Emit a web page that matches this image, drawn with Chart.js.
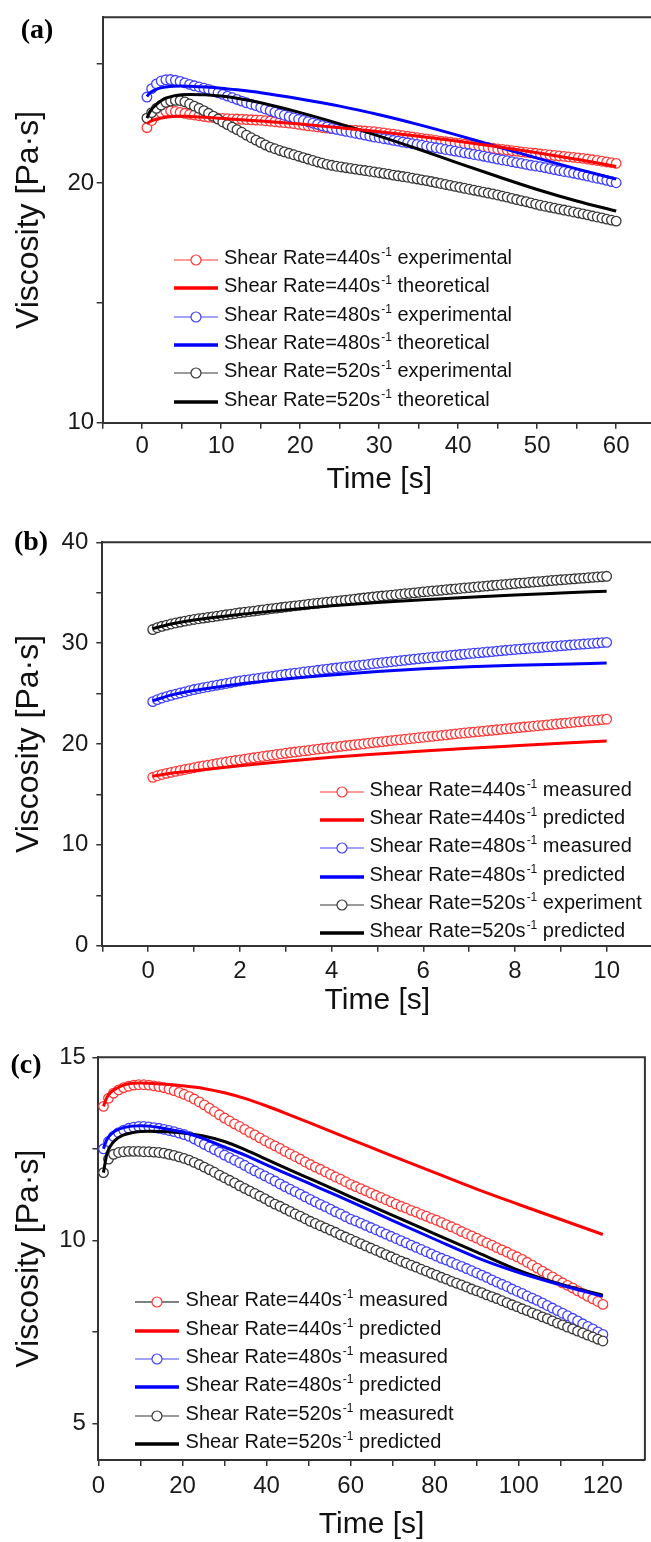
<!DOCTYPE html>
<html>
<head>
<meta charset="utf-8">
<script src="https://cdn.jsdelivr.net/npm/chart.js@4.4.1/dist/chart.umd.min.js"></script>
<style>
  html, body { margin: 0; padding: 0; background: #fff; }
  #page { position: relative; width: 651px; height: 1542px; overflow: hidden; }
  #page canvas { position: absolute; left: 0; }
  .tag { position: absolute; font: bold 28px "Liberation Serif", "Times New Roman", serif; line-height: 1; transform: translate(-50%, -50%); color: #000; }
  .leg { position: absolute; height: 28px; width: 420px; }
  .leg svg { position: absolute; left: 0; top: 0; }
  .leg .txt { position: absolute; top: 0; line-height: 28px; font: 20px "Liberation Sans", Arial, sans-serif; color: #111; white-space: nowrap; }
  .leg .sup { font-size: 12px; position: relative; top: -8px; margin-left: 1px; }
</style>
</head>
<body>
<div id="page">
  <canvas id="chartA" width="680" height="500" style="top:0px"></canvas>
  <canvas id="chartB" width="680" height="520" style="top:500px"></canvas>
  <canvas id="chartC" width="651" height="523" style="top:1020px"></canvas>
  <div class="tag" style="left:37px; top:29px">(a)</div>
  <div class="tag" style="left:31px; top:541px">(b)</div>
  <div class="tag" style="left:26px; top:1064px">(c)</div>
</div>
<script>
// ---- legend text ----
var rates = ['440', '480', '520']
var kindsA = ['experimental', 'theoretical', 'experimental', 'theoretical', 'experimental', 'theoretical']
var kindsB = ['measured', 'predicted', 'measured', 'predicted', 'experiment', 'predicted']
var kindsC = ['measured', 'predicted', 'measured', 'predicted', 'measuredt', 'predicted']

// ---- panel (a): time [s] and viscosity [Pa.s] ----
var timeA = [0.6,1.2,1.8,2.4,3,3.6,4.2,4.8,5.4,6,
  6.6,7.2,7.8,8.4,9,9.6,10.2,10.8,11.4,12,
  12.6,13.2,13.8,14.4,15,15.6,16.2,16.8,17.4,18,
  18.6,19.2,19.8,20.4,21,21.6,22.2,22.8,23.4,24,
  24.6,25.2,25.8,26.4,27,27.6,28.2,28.8,29.4,30,
  30.6,31.2,31.8,32.4,33,33.6,34.2,34.8,35.4,36,
  36.6,37.2,37.8,38.4,39,39.6,40.2,40.8,41.4,42,
  42.6,43.2,43.8,44.4,45,45.6,46.2,46.8,47.4,48,
  48.6,49.2,49.8,50.4,51,51.6,52.2,52.8,53.4,54,
  54.6,55.2,55.8,56.4,57,57.6,58.2,58.8,59.4,60]
var red440A = [22.32,22.62,22.82,22.94,23.00,23.02,23.00,22.96,22.92,22.88,
  22.85,22.82,22.79,22.76,22.74,22.72,22.71,22.70,22.69,22.68,
  22.67,22.66,22.65,22.64,22.63,22.61,22.59,22.57,22.55,22.53,
  22.51,22.49,22.46,22.43,22.40,22.38,22.35,22.33,22.30,22.28,
  22.27,22.25,22.24,22.22,22.21,22.19,22.18,22.16,22.15,22.12,
  22.10,22.07,22.05,22.02,21.99,21.96,21.93,21.90,21.87,21.85,
  21.82,21.79,21.76,21.73,21.71,21.68,21.66,21.63,21.60,21.57,
  21.55,21.52,21.49,21.46,21.43,21.41,21.39,21.36,21.34,21.31,
  21.29,21.27,21.25,21.22,21.20,21.18,21.16,21.14,21.12,21.10,
  21.08,21.06,21.04,21.01,20.98,20.95,20.92,20.89,20.86,20.83]
var blue480A = [23.60,23.95,24.15,24.27,24.32,24.33,24.30,24.25,24.19,24.13,
  24.07,24.02,23.97,23.92,23.85,23.78,23.71,23.64,23.57,23.50,
  23.43,23.36,23.30,23.24,23.17,23.10,23.03,22.97,22.90,22.84,
  22.78,22.73,22.67,22.62,22.57,22.51,22.46,22.40,22.35,22.29,
  22.25,22.21,22.17,22.13,22.09,22.05,22.01,21.97,21.93,21.90,
  21.86,21.83,21.79,21.76,21.72,21.69,21.65,21.62,21.59,21.55,
  21.52,21.48,21.45,21.41,21.38,21.34,21.31,21.27,21.24,21.20,
  21.17,21.13,21.09,21.05,21.01,20.97,20.94,20.90,20.86,20.83,
  20.79,20.75,20.72,20.69,20.65,20.61,20.57,20.53,20.49,20.46,
  20.42,20.38,20.34,20.30,20.25,20.21,20.17,20.12,20.07,20.02]
var black520A = [22.72,22.95,23.13,23.26,23.38,23.43,23.46,23.45,23.40,23.31,
  23.22,23.13,23.03,22.92,22.80,22.68,22.56,22.45,22.34,22.24,
  22.13,22.01,21.90,21.80,21.70,21.60,21.51,21.44,21.37,21.31,
  21.25,21.19,21.13,21.07,21.01,20.95,20.89,20.84,20.79,20.75,
  20.71,20.68,20.65,20.62,20.59,20.56,20.53,20.50,20.47,20.44,
  20.41,20.38,20.34,20.31,20.28,20.25,20.21,20.18,20.14,20.11,
  20.07,20.03,19.99,19.95,19.91,19.87,19.83,19.79,19.75,19.71,
  19.67,19.63,19.59,19.55,19.51,19.46,19.42,19.37,19.32,19.27,
  19.23,19.18,19.13,19.08,19.04,19.00,18.96,18.92,18.88,18.84,
  18.80,18.76,18.72,18.68,18.63,18.59,18.55,18.50,18.46,18.42]
var fitTimeA = [0.6, 1, 2, 3, 4, 5, 6, 8, 10, 12, 15, 20, 25, 30, 35, 40, 45, 50, 55, 60]
var red440FitA = [22.48,22.58,22.70,22.76,22.79,22.80,22.79,22.76,22.71,22.66,22.60,22.47,22.32,22.15,21.96,21.75,21.52,21.27,21.00,20.70]
var blue480FitA = [23.62,23.78,23.95,24.02,24.05,24.06,24.05,24.02,23.97,23.90,23.78,23.52,23.22,22.86,22.45,22.00,21.52,21.05,20.60,20.17]
var black520FitA = [22.72,23.00,23.35,23.55,23.65,23.70,23.71,23.70,23.64,23.55,23.36,22.95,22.48,21.97,21.42,20.84,20.28,19.74,19.26,18.84]
var xTicksA = [-5,0,5,10,15,20,25,30,35,40,45,50,55,60,65]
var xLabelsA = [0,10,20,30,40,50,60]
var yTicksA = [10,15,20,25]
var yLabelsA = [10,20]

// ---- panel (b) ----
var timeB = [0.1,0.2,0.3,0.4,0.5,0.6,0.7,0.8,0.9,1,
  1.1,1.2,1.3,1.4,1.5,1.6,1.7,1.8,1.9,2,
  2.1,2.2,2.3,2.4,2.5,2.6,2.7,2.8,2.9,3,
  3.1,3.2,3.3,3.4,3.5,3.6,3.7,3.8,3.9,4,
  4.1,4.2,4.3,4.4,4.5,4.6,4.7,4.8,4.9,5,
  5.1,5.2,5.3,5.4,5.5,5.6,5.7,5.8,5.9,6,
  6.1,6.2,6.3,6.4,6.5,6.6,6.7,6.8,6.9,7,
  7.1,7.2,7.3,7.4,7.5,7.6,7.7,7.8,7.9,8,
  8.1,8.2,8.3,8.4,8.5,8.6,8.7,8.8,8.9,9,
  9.1,9.2,9.3,9.4,9.5,9.6,9.7,9.8,9.9,10]
var red440B = [16.70,16.85,16.98,17.09,17.19,17.29,17.38,17.47,17.56,17.65,
  17.74,17.82,17.90,17.98,18.06,18.14,18.21,18.29,18.36,18.43,
  18.50,18.57,18.63,18.70,18.76,18.83,18.89,18.96,19.02,19.09,
  19.15,19.20,19.26,19.32,19.37,19.43,19.49,19.55,19.60,19.66,
  19.71,19.76,19.82,19.87,19.92,19.97,20.02,20.08,20.13,20.18,
  20.23,20.28,20.33,20.38,20.42,20.47,20.52,20.57,20.62,20.67,
  20.72,20.76,20.81,20.86,20.90,20.95,21.00,21.05,21.09,21.14,
  21.18,21.23,21.27,21.32,21.36,21.41,21.45,21.50,21.54,21.59,
  21.63,21.68,21.72,21.76,21.81,21.85,21.90,21.94,21.98,22.03,
  22.07,22.11,22.16,22.20,22.24,22.29,22.33,22.37,22.42,22.46]
var blue480B = [24.20,24.40,24.56,24.70,24.83,24.95,25.06,25.17,25.29,25.40,
  25.49,25.58,25.66,25.75,25.83,25.92,26.00,26.08,26.17,26.25,
  26.32,26.38,26.45,26.51,26.58,26.65,26.71,26.78,26.84,26.91,
  26.97,27.02,27.08,27.14,27.19,27.25,27.31,27.37,27.42,27.48,
  27.53,27.59,27.64,27.69,27.75,27.80,27.85,27.90,27.96,28.01,
  28.06,28.11,28.16,28.21,28.26,28.31,28.36,28.41,28.46,28.51,
  28.55,28.60,28.64,28.69,28.73,28.78,28.82,28.87,28.91,28.96,
  29.00,29.04,29.08,29.12,29.16,29.21,29.25,29.29,29.33,29.37,
  29.41,29.44,29.48,29.52,29.55,29.59,29.63,29.67,29.70,29.74,
  29.77,29.81,29.84,29.88,29.91,29.94,29.98,30.01,30.05,30.08]
var black520B = [31.35,31.53,31.67,31.79,31.90,32.00,32.09,32.18,32.27,32.35,
  32.42,32.48,32.55,32.61,32.68,32.75,32.81,32.88,32.94,33.01,
  33.07,33.13,33.18,33.24,33.30,33.36,33.42,33.47,33.53,33.59,
  33.64,33.70,33.75,33.80,33.86,33.91,33.96,34.01,34.07,34.12,
  34.17,34.22,34.27,34.32,34.37,34.42,34.47,34.52,34.57,34.62,
  34.67,34.71,34.76,34.80,34.85,34.90,34.94,34.99,35.03,35.08,
  35.12,35.17,35.21,35.25,35.30,35.34,35.38,35.42,35.47,35.51,
  35.55,35.59,35.63,35.67,35.71,35.75,35.79,35.83,35.87,35.91,
  35.95,35.98,36.02,36.06,36.09,36.13,36.17,36.21,36.24,36.28,
  36.31,36.35,36.38,36.42,36.45,36.49,36.52,36.56,36.59,36.63]
var fitTimeB = [0.1, 0.5, 1, 2, 3, 4, 5, 6, 7, 8, 9, 10]
var red440FitB = [16.80,17.10,17.35,17.85,18.30,18.68,19.00,19.30,19.58,19.83,20.07,20.30]
var blue480FitB = [24.30,24.85,25.30,25.95,26.45,26.85,27.18,27.45,27.65,27.80,27.92,28.02]
var black520FitB = [31.45,31.90,32.30,32.85,33.30,33.70,34.02,34.30,34.55,34.78,34.97,35.15]
var xTicksB = [-1,0,1,2,3,4,5,6,7,8,9,10,11]
var xLabelsB = [0,2,4,6,8,10]
var yTicksB = [0,5,10,15,20,25,30,35,40]
var yLabelsB = [0,10,20,30,40]

// ---- panel (c) ----
var timeC = [1.2,2.4,3.6,4.8,6,7.2,8.4,9.6,10.8,12,
  13.2,14.4,15.6,16.8,18,19.2,20.4,21.6,22.8,24,
  25.2,26.4,27.6,28.8,30,31.2,32.4,33.6,34.8,36,
  37.2,38.4,39.6,40.8,42,43.2,44.4,45.6,46.8,48,
  49.2,50.4,51.6,52.8,54,55.2,56.4,57.6,58.8,60,
  61.2,62.4,63.6,64.8,66,67.2,68.4,69.6,70.8,72,
  73.2,74.4,75.6,76.8,78,79.2,80.4,81.6,82.8,84,
  85.2,86.4,87.6,88.8,90,91.2,92.4,93.6,94.8,96,
  97.2,98.4,99.6,100.8,102,103.2,104.4,105.6,106.8,108,
  109.2,110.4,111.6,112.8,114,115.2,116.4,117.6,118.8,120]
var red440C = [13.66,13.88,14.02,14.11,14.17,14.21,14.24,14.25,14.25,14.24,
  14.22,14.20,14.17,14.13,14.09,14.04,13.99,13.93,13.86,13.78,
  13.70,13.61,13.52,13.43,13.34,13.26,13.18,13.11,13.03,12.95,
  12.88,12.80,12.72,12.65,12.58,12.51,12.43,12.36,12.29,12.22,
  12.14,12.07,12.00,11.94,11.87,11.80,11.73,11.67,11.60,11.53,
  11.47,11.41,11.35,11.29,11.23,11.17,11.11,11.05,10.99,10.93,
  10.88,10.82,10.77,10.71,10.66,10.60,10.55,10.49,10.43,10.37,
  10.31,10.24,10.18,10.12,10.06,9.99,9.93,9.87,9.80,9.74,
  9.68,9.61,9.55,9.48,9.40,9.32,9.24,9.16,9.08,9.00,
  8.92,8.84,8.77,8.70,8.62,8.55,8.47,8.40,8.33,8.25]
var blue480C = [12.50,12.70,12.84,12.94,13.01,13.06,13.09,13.11,13.11,13.10,
  13.08,13.06,13.03,13.00,12.97,12.93,12.89,12.84,12.77,12.70,
  12.62,12.55,12.48,12.41,12.33,12.26,12.19,12.12,12.05,11.97,
  11.90,11.83,11.76,11.69,11.62,11.54,11.47,11.40,11.33,11.26,
  11.19,11.12,11.05,10.98,10.92,10.85,10.78,10.72,10.65,10.58,
  10.53,10.47,10.41,10.35,10.29,10.23,10.17,10.11,10.05,9.99,
  9.93,9.87,9.81,9.75,9.69,9.63,9.57,9.51,9.46,9.40,
  9.34,9.29,9.23,9.17,9.11,9.05,8.99,8.92,8.86,8.80,
  8.74,8.67,8.61,8.55,8.48,8.42,8.36,8.29,8.22,8.15,
  8.08,8.01,7.94,7.87,7.80,7.72,7.65,7.58,7.50,7.43]
var black520C = [11.85,12.22,12.35,12.40,12.42,12.43,12.43,12.43,12.42,12.42,
  12.41,12.40,12.38,12.35,12.32,12.28,12.24,12.19,12.13,12.07,
  12.00,11.93,11.86,11.78,11.71,11.64,11.57,11.49,11.42,11.35,
  11.28,11.21,11.14,11.06,10.99,10.93,10.86,10.79,10.72,10.66,
  10.59,10.52,10.46,10.40,10.34,10.28,10.22,10.15,10.09,10.03,
  9.97,9.91,9.85,9.79,9.73,9.67,9.61,9.55,9.49,9.43,
  9.38,9.32,9.27,9.21,9.16,9.10,9.05,8.99,8.94,8.88,
  8.83,8.78,8.73,8.67,8.62,8.57,8.51,8.46,8.41,8.35,
  8.30,8.24,8.19,8.13,8.08,8.02,7.97,7.91,7.86,7.80,
  7.74,7.69,7.63,7.58,7.52,7.47,7.41,7.36,7.30,7.25]
var fitTimeC = [1.2, 2, 3, 4, 6, 8, 10, 12, 15, 20, 25, 30, 35, 40, 45, 50, 55, 60, 70, 80, 90, 100, 110, 120]
var red440FitC = [13.66,13.90,14.05,14.13,14.24,14.29,14.30,14.29,14.27,14.22,14.15,14.03,13.87,13.67,13.45,13.22,12.99,12.76,12.30,11.85,11.40,10.98,10.57,10.16]
var blue480FitC = [12.50,12.75,12.90,12.99,13.08,13.12,13.13,13.12,13.07,12.96,12.78,12.55,12.32,12.06,11.81,11.56,11.31,11.06,10.54,10.03,9.53,9.12,8.78,8.47]
var black520FitC = [11.85,12.35,12.60,12.74,12.88,12.94,12.97,12.98,12.97,12.93,12.85,12.70,12.47,12.21,11.95,11.70,11.45,11.19,10.68,10.18,9.68,9.18,8.80,8.50]
var xTicksC = [0,10,20,30,40,50,60,70,80,90,100,110,120]
var xLabelsC = [0,20,40,60,80,100,120]
var yTicksC = [5,7.5,10,12.5,15]
var yLabelsC = [5,10,15]

// ---- styling ----
var expColor = ['#ff3a3a', '#4040ff', '#383838']
var fitColor = ['#ff0000', '#0000ff', '#000000']
var legLineColor = ['#ff7a7a', '#8585ff', '#7a7a7a']
var axisColor = '#333'

Chart.defaults.font.family = '"Liberation Sans", Arial, sans-serif'
Chart.defaults.color = '#1a1a1a'

var framePlugin = {
    id: 'frame',
    afterDraw: function (chart) {
        var ctx = chart.ctx, a = chart.chartArea
        ctx.save()
        ctx.strokeStyle = axisColor
        ctx.lineWidth = 2
        ctx.beginPath()
        ctx.moveTo(a.left, a.top)
        ctx.lineTo(a.right, a.top)
        ctx.lineTo(a.right, a.bottom)
        ctx.stroke()
        ctx.restore()
    }
}

function pairs(xs, ys) {
    return xs.map(function (x, i) { return { x: x, y: ys[i] } })
}

function makeSets(time, exps, fitTime, fits, kinds) {
    var sets = []
    for (var k = 0; k < 3; k++) {
        sets.push({
            label: 'Shear Rate=' + rates[k] + 's-1 ' + kinds[2 * k],
            data: pairs(time, exps[k]),
            showLine: false,
            pointRadius: 4.8,
            pointBorderWidth: 1.3,
            pointBackgroundColor: '#fff',
            pointBorderColor: expColor[k],
            borderColor: expColor[k],
            legendLine: legLineColor[k],
            order: 3 - k
        })
        sets.push({
            label: 'Shear Rate=' + rates[k] + 's-1 ' + kinds[2 * k + 1],
            data: pairs(fitTime, fits[k]),
            showLine: true,
            borderColor: fitColor[k],
            borderWidth: 3,
            pointRadius: 0,
            fill: false,
            cubicInterpolationMode: 'monotone',
            order: 0
        })
    }
    return sets
}

function axis(o) {
    return {
        type: 'linear',
        min: o.min,
        max: o.max,
        afterBuildTicks: function (s) { s.ticks = o.ticks.map(function (v) { return { value: v } }) },
        afterFit: function (s) {
            if (o.width) s.width = o.width
            if (o.height) s.height = o.height
        },
        ticks: {
            autoSkip: false,
            maxRotation: 0,
            padding: o.pad,
            font: { size: 24 },
            color: '#1a1a1a',
            callback: function (v) { return o.labels.indexOf(v) >= 0 ? String(v) : '' }
        },
        grid: { drawOnChartArea: false, drawTicks: true, tickLength: 6, color: axisColor, lineWidth: 1.5 },
        border: { display: true, color: axisColor, width: 2 },
        title: { display: true, text: o.title, font: { size: o.titleSize }, color: '#111', padding: o.titlePad }
    }
}

function makeChart(id, sets, x, y, padding) {
    return new Chart(document.getElementById(id), {
        type: 'line',
        data: { datasets: sets },
        options: {
            responsive: false,
            devicePixelRatio: 1,
            animation: false,
            events: [],
            layout: { padding: padding },
            plugins: { legend: { display: false }, tooltip: { enabled: false } },
            scales: { x: x, y: y }
        },
        plugins: [framePlugin]
    })
}

function addLegend(chart, box) {
    var page = document.getElementById('page')
    chart.data.datasets.forEach(function (ds, i) {
        var row = document.createElement('div')
        row.className = 'leg'
        row.style.left = box.x + 'px'
        row.style.top = (box.y + i * box.step - 14) + 'px'
        var svg = '<svg width="46" height="28" viewBox="0 0 46 28">'
        if (ds.showLine === false) {
            svg += '<line x1="0" y1="14" x2="44" y2="14" stroke="' + (box.lineOverride && i === 0 ? box.lineOverride : ds.legendLine) + '" stroke-width="1.5"/>'
            svg += '<circle cx="22" cy="14" r="5" fill="#fff" stroke="' + ds.pointBorderColor + '" stroke-width="1.2"/>'
        } else {
            svg += '<line x1="0" y1="14" x2="44" y2="14" stroke="' + ds.borderColor + '" stroke-width="3.5"/>'
        }
        svg += '</svg>'
        var parts = ds.label.split('s-1')
        row.innerHTML = svg + '<span class="txt" style="left:' + (box.tx - box.x) + 'px">' +
            parts[0] + 's<span class="sup">-1</span>' + parts[1] + '</span>'
        page.appendChild(row)
    })
}

// (a)
var chartA = makeChart('chartA',
    makeSets(timeA, [red440A, blue480A, black520A], fitTimeA, [red440FitA, blue480FitA, black520FitA], kindsA),
    axis({ min: -5, max: 65, ticks: xTicksA, labels: xLabelsA, pad: 3, height: 77.3, title: 'Time [s]', titleSize: 30, titlePad: { top: 0, bottom: 2 } }),
    axis({ min: 10, max: 26.93, ticks: yTicksA, labels: yLabelsA, pad: 2.5, width: 102.7, title: 'Viscosity [Pa\u00b7s]', titleSize: 32, titlePad: { top: 10, bottom: 0 } }),
    { left: 0, top: 17.3, right: 24.3, bottom: 0 })
addLegend(chartA, { x: 174, tx: 224, y: 260, step: 28.3 })

// (b)
var chartB = makeChart('chartB',
    makeSets(timeB, [red440B, blue480B, black520B], fitTimeB, [red440FitB, blue480FitB, black520FitB], kindsB),
    axis({ min: -1, max: 11, ticks: xTicksB, labels: xLabelsB, pad: 5.5, height: 74.3, title: 'Time [s]', titleSize: 30, titlePad: { top: 0, bottom: 1 } }),
    axis({ min: 0, max: 40, ticks: yTicksB, labels: yLabelsB, pad: 8, width: 102.3, title: 'Viscosity [Pa\u00b7s]', titleSize: 32, titlePad: { top: 10, bottom: 0 } }),
    { left: 0, top: 42.3, right: 27.5, bottom: 0 })
addLegend(chartB, { x: 319.6, tx: 369.4, y: 791.7, step: 28.3 })

// (c)
var chartC = makeChart('chartC',
    makeSets(timeC, [red440C, blue480C, black520C], fitTimeC, [red440FitC, blue480FitC, black520FitC], kindsC),
    axis({ min: 0, max: 130, ticks: xTicksC, labels: xLabelsC, pad: 6.3, height: 83, title: 'Time [s]', titleSize: 30, titlePad: { top: 0, bottom: 0 } }),
    axis({ min: 4, max: 15, ticks: yTicksC, labels: yLabelsC, pad: 6.5, width: 98.4, title: 'Viscosity [Pa\u00b7s]', titleSize: 32, titlePad: { top: 10, bottom: 0 } }),
    { left: 0, top: 37.3, right: 3.3, bottom: 0 })
addLegend(chartC, { x: 135, tx: 185.6, y: 1302.3, step: 28.3, lineOverride: '#555' })
</script>
</body>
</html>
